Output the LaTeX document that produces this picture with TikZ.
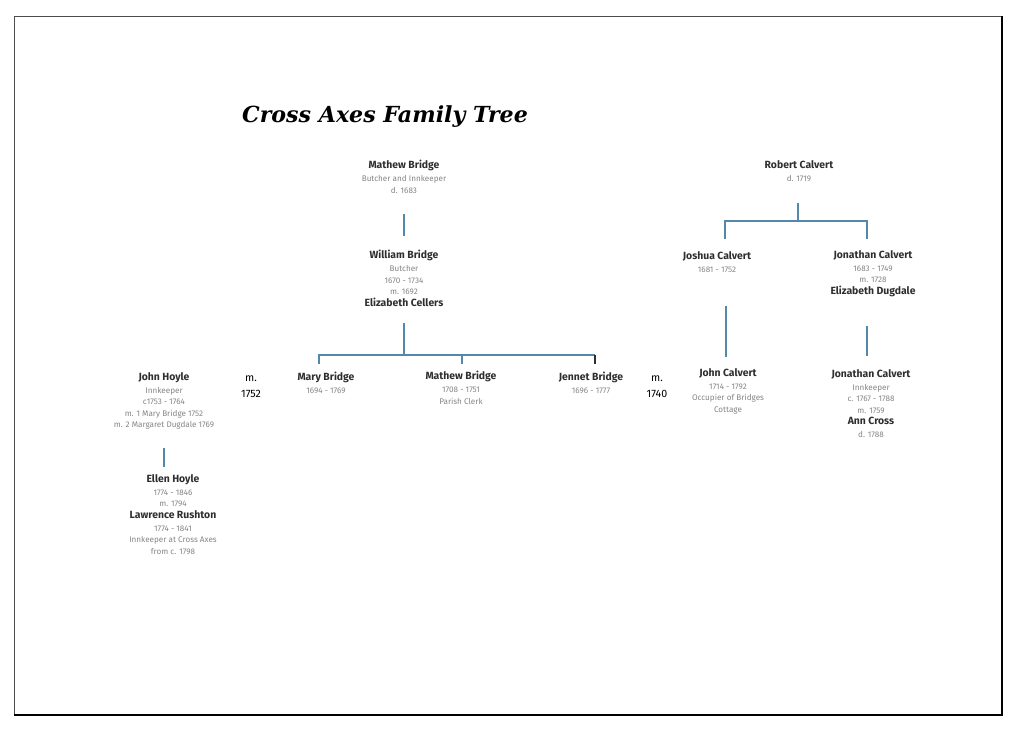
\documentclass[tikz,border=0pt]{standalone}
\usepackage{fontspec}
\setmainfont{Fira Sans}
\newfontfamily\titlefont{DejaVu Serif}
\definecolor{namec}{HTML}{2E2E2E}
\definecolor{grayc}{HTML}{858585}
\definecolor{linec}{HTML}{5388AA}
\newcommand\pn[1]{{\fontsize{7.8}{8.7}\selectfont\bfseries\color{namec}#1}}
\begin{document}
\begin{tikzpicture}[x=0.75pt,y=-0.75pt,
  person/.style={anchor=north,inner sep=0pt,align=center,text=grayc,
    font=\fontsize{6.1}{8.7}\selectfont},
  marr/.style={anchor=north,inner sep=0pt,align=center,text=black,
    font=\fontsize{8}{12}\selectfont},
  conn/.style={draw=linec,line width=0.85pt},
  connd/.style={draw=namec,line width=0.85pt}]
\useasboundingbox (0,0) rectangle (1024,739);
% page border
\coordinate (tl) at (14,16);
\coordinate (tr) at (1002,16);
\coordinate (br) at (1002,715);
\coordinate (bl) at (14,715);
\draw[gray!60!black,line width=0.7pt] (bl) -- (tl) -- (tr);
\draw[black,line width=1.4pt] (tr) -- (br) -- (bl);
% title
\node[inner sep=0pt,anchor=base] (title) at (385,122)
  {\titlefont\fontsize{16.6}{18}\selectfont\bfseries\itshape Cross Axes Family Tree};
% Bridge family
\node[person] (mb) at (404,160) {\pn{Mathew Bridge}\\[1pt] Butcher and Innkeeper\\ d. 1683};
\node[person] (wb) at (404,250) {\pn{William Bridge}\\[1pt] Butcher\\ 1670 - 1734\\ m. 1692\\ \pn{Elizabeth Cellers}};
\node[person] (mary) at (326,372) {\pn{Mary Bridge}\\[1pt] 1694 - 1769};
\node[person] (mat) at (461,371) {\pn{Mathew Bridge}\\[1pt] 1708 - 1751\\ Parish Clerk};
\node[person] (jen) at (591,372) {\pn{Jennet Bridge}\\[1pt] 1696 - 1777};
\node[marr] (m52) at (251,375) {m.\\ 1752};
\node[marr] (m40) at (657,375) {m.\\ 1740};
\node[person] (jh) at (164,372) {\pn{John Hoyle}\\[1pt] Innkeeper\\ c1753 - 1764\\ m. 1 Mary Bridge 1752\\ m. 2 Margaret Dugdale 1769};
\node[person] (eh) at (173,474) {\pn{Ellen Hoyle}\\[1pt] 1774 - 1846\\ m. 1794\\ \pn{Lawrence Rushton}\\[1pt] 1774 - 1841\\ Innkeeper at Cross Axes\\ from c. 1798};
% Calvert family
\node[person] (rc) at (799,160) {\pn{Robert Calvert}\\[1pt] d. 1719};
\node[person] (jos) at (717,251) {\pn{Joshua Calvert}\\[1pt] 1681 - 1752};
\node[person] (jon) at (873,250) {\pn{Jonathan Calvert}\\[1pt] 1683 - 1749\\ m. 1728\\ \pn{Elizabeth Dugdale}};
\node[person] (jc) at (728,368) {\pn{John Calvert}\\[1pt] 1714 - 1792\\ Occupier of Bridges\\ Cottage};
\node[person] (jon2) at (871,369) {\pn{Jonathan Calvert}\\[1pt] Innkeeper\\ c. 1767 - 1788\\ m. 1759\\ \pn{Ann Cross}\\[1pt] d. 1788};
% connector points
\coordinate (mbD) at (404,214);
\coordinate (wbU) at (404,236);
\coordinate (wbD) at (404,323);
\coordinate (wbJ) at (404,355);
\coordinate (barL) at (319,355);
\coordinate (barM) at (462,355);
\coordinate (barR) at (595,355);
\coordinate (maryU) at (319,364);
\coordinate (matU) at (462,364);
\coordinate (jenU) at (595,364);
\coordinate (jhD) at (164,448);
\coordinate (ehU) at (164,467);
\coordinate (rcD) at (798,203);
\coordinate (rcJ) at (798,221);
\coordinate (cbarL) at (725,221);
\coordinate (cbarR) at (867,221);
\coordinate (josU) at (725,239);
\coordinate (jonU) at (867,239);
\coordinate (josD) at (726,306);
\coordinate (jcU) at (726,357);
\coordinate (jonD) at (867,326);
\coordinate (jon2U) at (867,356);
% connectors
\draw[conn] (mbD) -- (wbU);
\draw[conn] (wbD) -- (wbJ);
\draw[conn] (maryU) -- (barL) -- (barR);
\draw[conn] (barM) -- (matU);
\draw[connd] (barR) -- (jenU);
\draw[conn] (jhD) -- (ehU);
\draw[conn] (rcD) -- (rcJ);
\draw[conn] (josU) -- (cbarL) -- (cbarR) -- (jonU);
\draw[conn] (josD) -- (jcU);
\draw[conn] (jonD) -- (jon2U);
\end{tikzpicture}
\end{document}
